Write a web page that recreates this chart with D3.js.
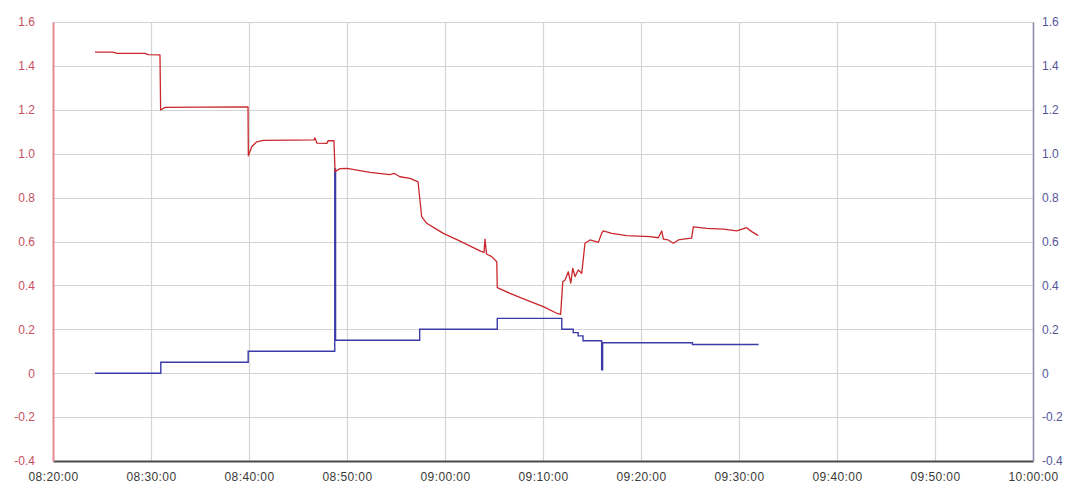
<!DOCTYPE html>
<html>
<head>
<meta charset="utf-8">
<script src="https://cdn.jsdelivr.net/npm/d3@7"></script>
<style>
  html, body { margin: 0; padding: 0; background: #ffffff; }
  svg { display: block; }
  text { font-family: "Liberation Sans", Arial, sans-serif; }
</style>
</head>
<body>
<svg id="chart" width="1073" height="491"></svg>
<script>
// Time span and axis ticks
const timeDomain = ["08:20:00", "10:00:00"];
const timeTicks = ["08:20:00", "08:30:00", "08:40:00", "08:50:00", "09:00:00",
                   "09:10:00", "09:20:00", "09:30:00", "09:40:00", "09:50:00", "10:00:00"];
const valueTicks = [-0.4, -0.2, 0, 0.2, 0.4, 0.6, 0.8, 1.0, 1.2, 1.4, 1.6];
const tickLabels = ["-0.4", "-0.2", "0", "0.2", "0.4", "0.6", "0.8", "1.0", "1.2", "1.4", "1.6"];

// Red series (left axis)
const redTimes = [
  "08:24:17", "08:26:07", "08:26:32", "08:29:23", "08:29:42", "08:30:55", "08:30:59", "08:31:26",
  "08:35:00", "08:39:54", "08:39:56", "08:40:17", "08:40:47", "08:41:26", "08:44:11", "08:46:38",
  "08:46:44", "08:46:56", "08:47:57", "08:48:04", "08:48:40", "08:48:47", "08:49:17", "08:50:00",
  "08:52:21", "08:54:23", "08:54:50", "08:55:24", "08:56:26", "08:57:15", "08:57:37", "08:58:08",
  "08:58:59", "08:59:50", "09:01:32", "09:03:34", "09:03:59", "09:04:05", "09:04:14", "09:04:46",
  "09:05:17", "09:05:20", "09:06:38", "09:08:20", "09:10:02", "09:11:24", "09:11:48", "09:12:01",
  "09:12:15", "09:12:35", "09:12:50", "09:13:02", "09:13:16", "09:13:36", "09:13:57", "09:14:07",
  "09:14:17", "09:14:48", "09:15:39", "09:15:59", "09:16:09", "09:17:01", "09:18:32", "09:20:55",
  "09:21:46", "09:22:07", "09:22:17", "09:22:46", "09:23:18", "09:23:49", "09:24:19", "09:25:10",
  "09:25:20", "09:26:42", "09:28:24", "09:29:46", "09:30:47", "09:31:18", "09:31:58"
];
const redValues = [
  1.463, 1.463, 1.457, 1.457, 1.451, 1.450, 1.199, 1.211,
  1.212, 1.213, 0.990, 1.032, 1.054, 1.061, 1.062, 1.063,
  1.072, 1.048, 1.047, 1.059, 1.060, 0.918, 0.932, 0.933,
  0.915, 0.905, 0.910, 0.895, 0.888, 0.872, 0.713, 0.683,
  0.660, 0.637, 0.602, 0.557, 0.550, 0.611, 0.543, 0.531,
  0.508, 0.390, 0.364, 0.333, 0.303, 0.273, 0.268, 0.417,
  0.425, 0.462, 0.410, 0.478, 0.440, 0.470, 0.455, 0.523,
  0.592, 0.607, 0.596, 0.637, 0.648, 0.637, 0.627, 0.622,
  0.617, 0.648, 0.611, 0.607, 0.592, 0.607, 0.611, 0.615,
  0.667, 0.660, 0.656, 0.648, 0.663, 0.645, 0.627
];

// Blue series (right axis), stepped values
const blueTimes = [
  "08:24:17", "08:31:00", "08:39:55", "08:48:45", "08:48:50", "08:57:25", "09:05:20",
  "09:11:55", "09:13:05", "09:13:35", "09:14:05", "09:15:59", "09:16:05", "09:25:15", "09:32:00"
];
const blueValues = [
  0.0, 0.05, 0.10, 0.93, 0.15, 0.20, 0.25,
  0.20, 0.185, 0.17, 0.148, 0.015, 0.139, 0.131, 0.131
];

const parse = d3.timeParse("%H:%M:%S");
const redData = redTimes.map((t, i) => ({ t: parse(t), v: redValues[i] }));
const blueData = blueTimes.map((t, i) => ({ t: parse(t), v: blueValues[i] }));

const width = 1073, height = 491;
const margin = { top: 22, right: 40, bottom: 30, left: 53 };
const svg = d3.select("#chart");

const x = d3.scaleTime()
  .domain(timeDomain.map(parse))
  .range([margin.left, width - margin.right]);
const yLeft = d3.scaleLinear().domain([-0.4, 1.6]).range([height - margin.bottom, margin.top]);
const yRight = d3.scaleLinear().domain([-0.4, 1.6]).range([height - margin.bottom, margin.top]);

// Grid
const grid = svg.append("g").attr("class", "grid");
grid.selectAll("line.h").data(valueTicks).join("line")
  .attr("x1", margin.left).attr("x2", width - margin.right)
  .attr("y1", d => Math.round(yLeft(d)) + 0.5).attr("y2", d => Math.round(yLeft(d)) + 0.5)
  .attr("stroke", "#d4d4d4").attr("stroke-width", 1.2);
grid.selectAll("line.v").data(timeTicks.map(parse)).join("line")
  .attr("x1", d => Math.round(x(d)) + 0.5).attr("x2", d => Math.round(x(d)) + 0.5)
  .attr("y1", margin.top).attr("y2", height - margin.bottom)
  .attr("stroke", "#d4d4d4").attr("stroke-width", 1.2);

// Axes
const xAxis = d3.axisBottom(x)
  .tickValues(timeTicks.map(parse))
  .tickFormat(d3.timeFormat("%H:%M:%S"))
  .tickSize(0).tickPadding(11);
const gx = svg.append("g")
  .attr("transform", `translate(0,${height - margin.bottom})`)
  .call(xAxis);
gx.select(".domain").attr("stroke", "#4a4a4a").attr("stroke-width", 2);
gx.selectAll("text").attr("fill", "#3a3a3a").attr("font-size", 12)
  .attr("letter-spacing", "0.4px");

const yAxisL = d3.axisLeft(yLeft)
  .tickValues(valueTicks)
  .tickFormat((d, i) => tickLabels[i])
  .tickSize(0).tickPadding(18);
const gyl = svg.append("g")
  .attr("transform", `translate(${margin.left},0)`)
  .call(yAxisL);
gyl.select(".domain").attr("stroke", "#e88a96").attr("stroke-width", 2);
gyl.selectAll("text").attr("fill", "#c8505e").attr("font-size", 12);

const yAxisR = d3.axisRight(yRight)
  .tickValues(valueTicks)
  .tickFormat((d, i) => tickLabels[i])
  .tickSize(0).tickPadding(9);
const gyr = svg.append("g")
  .attr("transform", `translate(${width - margin.right},0)`)
  .call(yAxisR);
gyr.select(".domain").attr("stroke", "#8a8ab0").attr("stroke-width", 1.5);
gyr.selectAll("text").attr("fill", "#55559a").attr("font-size", 12);

// Series lines
const redLine = d3.line().x(d => x(d.t)).y(d => yLeft(d.v));
const blueLine = d3.line().x(d => x(d.t)).y(d => yRight(d.v)).curve(d3.curveStepAfter);

svg.append("path").datum(blueData)
  .attr("fill", "none").attr("stroke", "#3a3aa8").attr("stroke-width", 1.4)
  .attr("d", blueLine);

svg.append("path").datum(redData)
  .attr("fill", "none").attr("stroke", "#c8282c").attr("stroke-width", 1.3)
  .attr("stroke-linejoin", "round")
  .attr("d", redLine);
</script>
</body>
</html>
